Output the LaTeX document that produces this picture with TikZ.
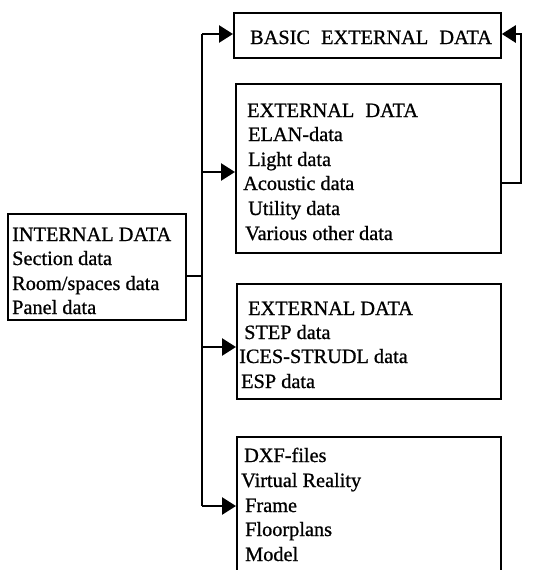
\documentclass[tikz,border=0pt]{standalone}
\usepackage{fontspec}
\setmainfont{Liberation Serif}[FakeBold=0.8]
\usetikzlibrary{arrows.meta}
\tikzset{
  x=1pt, y=-1pt,
  box/.style={draw, line width=1.8pt, rectangle, inner sep=0pt, anchor=north west},
  txt/.style={anchor=base west, inner sep=0pt, font=\fontsize{20.3pt}{24pt}\selectfont},
  conn/.style={line width=2.6pt},
  arr/.style={line width=2.6pt, -{Triangle[length=14pt,width=17pt]}},
}
\begin{document}
\begin{tikzpicture}
\useasboundingbox (0,0) rectangle (541,570);
% boxes
\node[box, minimum width=178pt, minimum height=106pt] (intbox) at (7,213) {};
\node[box, minimum width=267pt, minimum height=45pt] (basic) at (233,12) {};
\node[box, minimum width=265pt, minimum height=169pt] (ext1) at (235,83) {};
\node[box, minimum width=264pt, minimum height=115pt] (ext2) at (236,283) {};
\node[box, minimum width=264pt, minimum height=142pt] (dxf) at (236,436) {};
% internal text
\node[txt] (i1) at (12,241) {INTERNAL DATA};
\node[txt] (i2) at (12,265) {Section data};
\node[txt] (i3) at (12,290) {Room/spaces data};
\node[txt] (i4) at (12,314) {Panel data};
% basic
\node[txt] (b1) at (250,44) {BASIC\hspace{0.3em} EXTERNAL\hspace{0.3em} DATA};
% ext1
\node[txt] (e1) at (247,117) {EXTERNAL\hspace{0.3em} DATA};
\node[txt] (e2) at (248,141) {ELAN-data};
\node[txt] (e3) at (248,166) {Light data};
\node[txt] (e4) at (243,190) {Acoustic data};
\node[txt] (e5) at (248,215) {Utility data};
\node[txt] (e6) at (245,240) {Various other data};
% ext2
\node[txt] (f1) at (248,315) {EXTERNAL DATA};
\node[txt] (f2) at (244,339) {STEP data};
\node[txt] (f3) at (239,363) {ICES-STRUDL data};
\node[txt] (f4) at (241,388) {ESP data};
% dxf
\node[txt] (d1) at (244,462) {DXF-files};
\node[txt] (d2) at (241,487) {Virtual Reality};
\node[txt] (d3) at (245,512) {Frame};
\node[txt] (d4) at (245,536) {Floorplans};
\node[txt] (d5) at (245,561) {Model};
% connectors
\coordinate (j) at (202,276);
\coordinate (jt) at (202,34);
\coordinate (j1) at (202,172);
\coordinate (j2) at (202,347);
\coordinate (jb) at (202,506);
\coordinate (r1) at (521,183);
\draw[conn] (intbox.east |- j) -- (j);
\draw[conn] (jt) -- (jb);
\draw[arr] (jt) -- (basic.west |- jt);
\draw[arr] (j1) -- (ext1.west |- j1);
\draw[arr] (j2) -- (ext2.west |- j2);
\draw[arr] (jb) -- (dxf.west |- jb);
\draw[arr] (ext1.east |- r1) -- (r1) -- (r1 |- jt) -- (basic.east |- jt);
\end{tikzpicture}
\end{document}
